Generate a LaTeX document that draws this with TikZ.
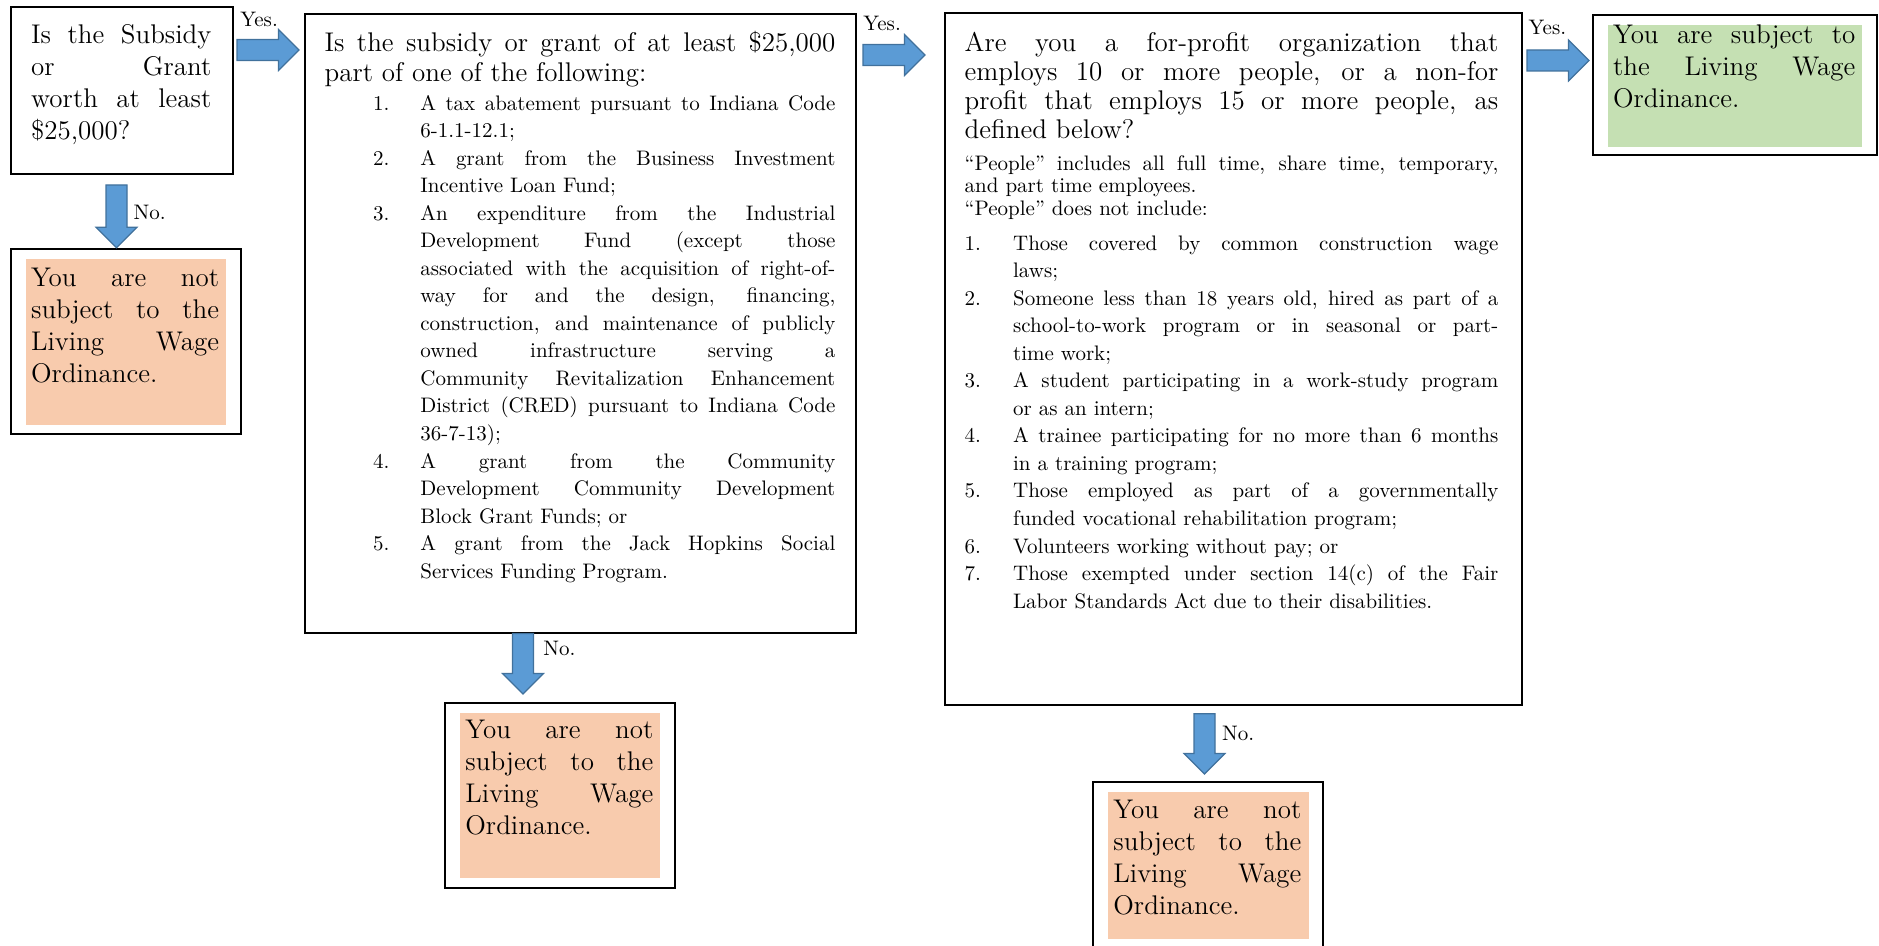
\documentclass[tikz,border=0pt]{standalone}
\usepackage{fontspec}
\usepackage{tikz}
\usetikzlibrary{calc}
\definecolor{arrowblue}{HTML}{5B9BD5}
\definecolor{arrowedge}{HTML}{41719C}
\definecolor{notpeach}{HTML}{F8CBAD}
\definecolor{yesgreen}{HTML}{C5E0B3}
\tolerance=10000
\hbadness=10000
\setlength{\parindent}{0pt}
\newcommand{\listitem}[3]{\par\noindent\hangindent=#2\hangafter=1\hspace*{#1}\makebox[\dimexpr#2-#1\relax][l]{#3}\ignorespaces}
\newcommand{\blockarrow}[2]{%
	\coordinate (hb) at ($(#2)!10.25pt!(#1)$);
	\draw[flowarrow] ($(#1)!5.25pt!90:(#2)$) -- ($(hb)!5.25pt!90:(#2)$) -- ($(hb)!10.25pt!90:(#2)$) -- (#2)
		-- ($(hb)!10.25pt!-90:(#2)$) -- ($(hb)!5.25pt!-90:(#2)$) -- ($(#1)!5.25pt!-90:(#2)$) -- cycle;}

\begin{document}
\begin{tikzpicture}[x=0.5pt, y=-0.5pt,
	box/.style={draw, line width=1pt, inner sep=0pt, anchor=north west},
	txt/.style={inner sep=0pt, anchor=base west, align=justify},
	bigtext/.style={font=\fontsize{13.5pt}{#1}\selectfont},
	lbl/.style={inner sep=0pt, anchor=base west, font=\fontsize{10.5pt}{12pt}\selectfont},
	flowarrow/.style={fill=arrowblue, draw=arrowedge, line width=0.6pt, line join=miter}]
	\path[use as bounding box, clip] (0,0) rectangle (1879,946);
	% frames
	\node[box, minimum width=111.25pt, minimum height=83.25pt] (worth) at (9.5,6.5) {};
	\node[box, minimum width=275.75pt, minimum height=309pt] (grant) at (303.5,13.5) {};
	\node[box, minimum width=288.5pt, minimum height=345.75pt] (employ) at (943.5,12.5) {};
	\node[box, minimum width=142.25pt, minimum height=70pt] (yesbox) at (1591.5,14.5) {};
	\node[box, minimum width=115.25pt, minimum height=92.5pt] (no1) at (9.5,248.5) {};
	\node[box, minimum width=115.25pt, minimum height=92.5pt] (no2) at (443.5,701.5) {};
	\node[box, minimum width=115.25pt, minimum height=92.5pt] (no3) at (1091.5,781) {};
	% coloured answers
	\fill[yesgreen] ([shift={(8.1pt,-5.25pt)}]yesbox.north west) rectangle ([shift={(-8pt,4.75pt)}]yesbox.south east);
	\fill[notpeach] ([shift={(8.25pt,-5.4pt)}]no1.north west) rectangle ([shift={(-8pt,5.4pt)}]no1.south east);
	\fill[notpeach] ([shift={(8.25pt,-5.75pt)}]no2.north west) rectangle ([shift={(-8.15pt,5.25pt)}]no2.south east);
	\fill[notpeach] ([shift={(8.4pt,-5.35pt)}]no3.north west) rectangle ([shift={(-7.75pt,14.35pt)}]no3.south east);
	% texts
	\node[txt, bigtext=16.1pt, text width=90.15pt] (worth-t) at (30.7,43.3)
		{Is the Subsidy\linebreak or Grant\linebreak worth at least\linebreak \$25,000?};
	\node[txt, bigtext=15pt, text width=255.35pt] (grant-t) at (324.3,51.7)
		{Is the subsidy or grant of at least \$25,000\linebreak part of one of the following:\par
		\vspace{0.4pt}{\fontsize{10.5pt}{13.77pt}\selectfont
		\listitem{24.2pt}{47.85pt}{1.}A tax abatement pursuant to Indiana Code\linebreak 6-1.1-12.1;
		\listitem{24.2pt}{47.85pt}{2.}A grant from the Business Investment\linebreak Incentive Loan Fund;
		\listitem{24.2pt}{47.85pt}{3.}An expenditure from the Industrial\linebreak Development Fund (except those\linebreak
			associated with the acquisition of right-of-\linebreak way for and the design, financing,\linebreak
			construction, and maintenance of publicly\linebreak owned infrastructure serving a\linebreak
			Community Revitalization Enhancement\linebreak District (CRED) pursuant to Indiana Code\linebreak 36-7-13);
		\listitem{24.2pt}{47.85pt}{4.}A grant from the Community\linebreak Development Community Development\linebreak Block Grant Funds; or
		\listitem{24.2pt}{47.85pt}{5.}A grant from the Jack Hopkins Social\linebreak Services Funding Program.\par}};
	\node[txt, bigtext=14.45pt, text width=266.85pt] (employ-t) at (964.3,51.7)
		{Are you a for-profit organization that\linebreak employs 10 or more people, or a non-for\linebreak
		profit that employs 15 or more people, as\linebreak defined below?\par
		\vspace{4.6pt}{\fontsize{10.5pt}{11.25pt}\selectfont
		“People” includes all full time, share time, temporary,\linebreak and part time employees.\par
		“People” does not include:\par}
		\vspace{3.73pt}{\fontsize{10.5pt}{13.77pt}\selectfont
		\listitem{0pt}{24.2pt}{1.}Those covered by common construction wage\linebreak laws;
		\listitem{0pt}{24.2pt}{2.}Someone less than 18 years old, hired as part of a\linebreak school-to-work program or in seasonal or part-\linebreak time work;
		\listitem{0pt}{24.2pt}{3.}A student participating in a work-study program\linebreak or as an intern;
		\listitem{0pt}{24.2pt}{4.}A trainee participating for no more than 6 months\linebreak in a training program;
		\listitem{0pt}{24.2pt}{5.}Those employed as part of a governmentally\linebreak funded vocational rehabilitation program;
		\listitem{0pt}{24.2pt}{6.}Volunteers working without pay; or
		\listitem{0pt}{24.2pt}{7.}Those exempted under section 14(c) of the Fair\linebreak Labor Standards Act due to their disabilities.\par}};
	\node[txt, bigtext=16pt, text width=121.15pt] (yesbox-t) at (1612.7,43.3)
		{You are subject to\linebreak the Living Wage\linebreak Ordinance.};
	\node[txt, bigtext=16pt, text width=94pt] (no1-t) at (30.7,286.7)
		{You are not\linebreak subject to the\linebreak Living Wage\linebreak Ordinance.};
	\node[txt, bigtext=16pt, text width=94pt] (no2-t) at (465,738)
		{You are not\linebreak subject to the\linebreak Living Wage\linebreak Ordinance.};
	\node[txt, bigtext=16pt, text width=94pt] (no3-t) at (1113,818)
		{You are not\linebreak subject to the\linebreak Living Wage\linebreak Ordinance.};
	% arrows
	\coordinate (y1a) at ($(worth.north east)+(1.5pt,-21.75pt)$);
	\coordinate (y1b) at ($(grant.west |- y1a)+(-2.25pt,0)$);
	\coordinate (y2a) at ($(grant.north east)+(3pt,-20.75pt)$);
	\coordinate (y2b) at ($(employ.west |- y2a)+(-9.25pt,0)$);
	\coordinate (y3a) at ($(employ.north east)+(2.25pt,-24pt)$);
	\coordinate (y3b) at ($(yesbox.west |- y3a)+(-1.25pt,0)$);
	\coordinate (n1a) at ($(worth.south west)+(53.5pt,-5pt)$);
	\coordinate (n1b) at ($(no1.north -| n1a)+(0,0.4pt)$);
	\coordinate (n2a) at ($(grant.south west)+(109.75pt,0)$);
	\coordinate (n2b) at ($(no2.north -| n2a)+(0,3.75pt)$);
	\coordinate (n3a) at ($(employ.south west)+(130.5pt,-3.85pt)$);
	\coordinate (n3b) at ($(no3.north -| n3a)+(0,3.5pt)$);
	\foreach \from/\to in {y1a/y1b, y2a/y2b, y3a/y3b, n1a/n1b, n2a/n2b, n3a/n3b}
		\blockarrow{\from}{\to};
	\node[lbl] (yes1) at (240,26.7) {Yes.};
	\node[lbl] (yes2) at (863,30.7) {Yes.};
	\node[lbl] (yes3) at (1528.3,35) {Yes.};
	\node[lbl] (nolbl1) at (133.3,220) {No.};
	\node[lbl] (nolbl2) at (543,655) {No.};
	\node[lbl] (nolbl3) at (1221.7,740) {No.};
\end{tikzpicture}
\end{document}
